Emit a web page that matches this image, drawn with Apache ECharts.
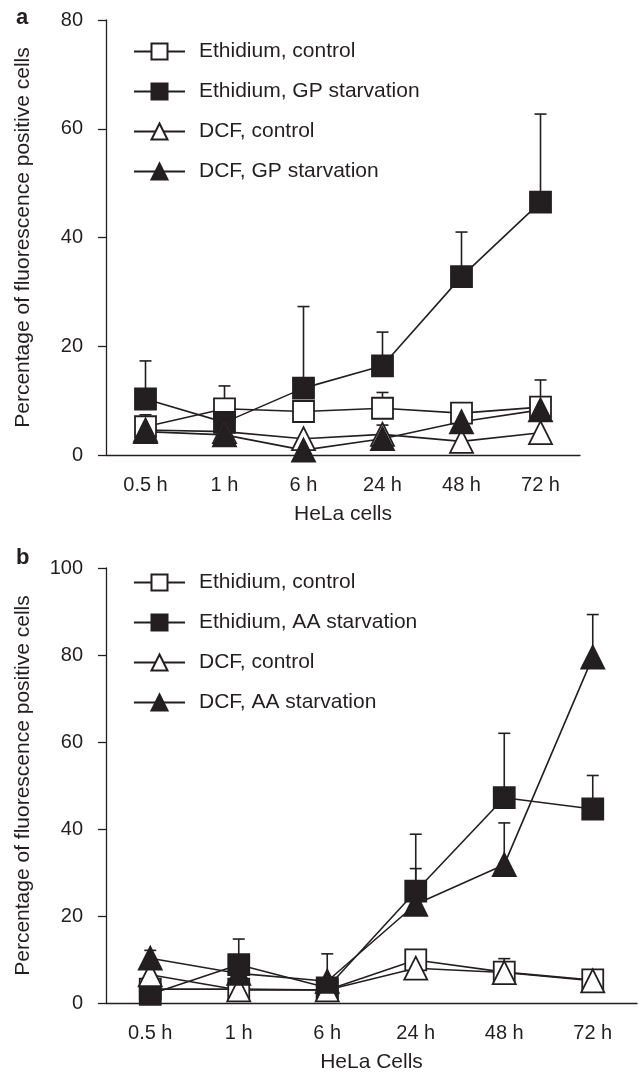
<!DOCTYPE html>
<html>
<head>
<meta charset="utf-8">
<script src="https://cdn.jsdelivr.net/npm/echarts@6/dist/echarts.min.js"></script>
<style>
  html, body { margin: 0; padding: 0; background: #fff; }
  #chartA { position: absolute; left: 0; top: 0; width: 639px; height: 540px; }
  #chartB { position: absolute; left: 0; top: 540px; width: 639px; height: 538px; }
</style>
</head>
<body>
<div id="chartA"></div>
<div id="chartB"></div>
<script>
// 时间点 (x 轴类别)
const timePoints = ["0.5 h", "1 h", "6 h", "24 h", "48 h", "72 h"];

// panel a: HeLa cells, GP starvation
const aEthControl = [5.2, 8.5, 8.0, 8.6, 7.7, 8.8];
const aEthControlErr = [7.4, 12.7, null, 11.5, null, 13.8];
const aEthGP = [10.3, 6.0, 12.3, 16.4, 32.8, 46.5];
const aEthGPErr = [17.3, null, 27.3, 22.6, 41.0, 62.7];
const aDcfControl = [4.6, 4.3, 3.0, 3.8, 2.5, 4.1];
const aDcfGP = [4.3, 3.7, 0.9, 3.0, 6.1, 8.3];
const aDcfGPErr = [null, null, null, 5.5, null, null];

// panel b: HeLa Cells, AA starvation
const bEthControl = [3.2, 3.2, 3.0, 9.9, 7.1, 5.3];
const bEthAA = [2.0, 8.8, 3.5, 25.7, 47.2, 44.6];
const bEthAAErr = [null, 14.7, null, 38.8, 62.0, 52.3];
const bDcfControl = [6.5, 3.0, 3.0, 8.0, 7.0, 5.1];
const bDcfControlErr = [null, null, null, null, 10.2, null];
const bDcfAA = [10.3, 6.8, 5.0, 22.7, 31.8, 79.5];
const bDcfAAErr = [12.1, null, 11.3, 30.9, 41.4, 89.3];

const INK = "#231f20";
const FONT = "Liberation Sans, Arial, sans-serif";

function lineSeries(name, data, symbol, filled) {
  return {
    name: name,
    type: "line",
    data: data,
    symbol: symbol,
    symbolSize: symbol === "rect" ? 21 : 23,
    z: 3,
    lineStyle: { color: INK, width: 1.6 },
    itemStyle: {
      color: filled ? INK : "#fff",
      borderColor: INK,
      borderWidth: 1.8,
    },
    emphasis: { disabled: true },
    animation: false,
  };
}

// 误差线 (只画上方)
function errSeries(values, errs) {
  const rows = [];
  errs.forEach((e, i) => {
    if (e != null) rows.push([i, values[i], e]);
  });
  return {
    type: "custom",
    z: 2,
    silent: true,
    animation: false,
    data: rows,
    encode: { x: 0, y: [1, 2] },
    renderItem: (params, api) => {
      const p0 = api.coord([api.value(0), api.value(1)]);
      const p1 = api.coord([api.value(0), api.value(2)]);
      const st = { stroke: INK, lineWidth: 1.6 };
      return {
        type: "group",
        children: [
          { type: "line", shape: { x1: p0[0], y1: p0[1], x2: p1[0], y2: p1[1] }, style: st },
          { type: "line", shape: { x1: p1[0] - 6, y1: p1[1], x2: p1[0] + 6, y2: p1[1] }, style: st },
        ],
      };
    },
  };
}

function baseOption(label, grid, yMax, xName, legendNames, legendTop, labelTop) {
  return {
    animation: false,
    textStyle: { fontFamily: FONT, color: INK },
    title: {
      text: label,
      left: 11,
      top: labelTop,
      textStyle: { fontSize: 22, fontWeight: "bold", color: INK, fontFamily: FONT },
    },
    legend: {
      orient: "vertical",
      left: 128,
      top: legendTop,
      itemWidth: 51,
      itemHeight: 20,
      itemGap: 19,
      data: legendNames,
      selectedMode: false,
      textStyle: { fontSize: 21, color: INK, fontFamily: FONT, padding: [0, 0, 0, 9] },
    },
    grid: grid,
    xAxis: {
      type: "category",
      data: timePoints,
      name: xName,
      nameLocation: "middle",
      nameGap: 49,
      nameTextStyle: { fontSize: 21, color: INK },
      axisLine: { lineStyle: { color: INK, width: 1.3 } },
      axisTick: { length: 8, lineStyle: { color: INK, width: 1.3 } },
      axisLabel: { fontSize: 20, color: INK, margin: 20 },
    },
    yAxis: {
      type: "value",
      min: 0,
      max: yMax,
      interval: 20,
      name: "Percentage of fluorescence positive cells",
      nameLocation: "middle",
      nameGap: 72,
      nameTextStyle: { fontSize: 21, color: INK },
      axisLine: { show: true, lineStyle: { color: INK, width: 1.3 } },
      axisTick: { show: true, length: 8, lineStyle: { color: INK, width: 1.3 } },
      axisLabel: { fontSize: 20, color: INK, margin: 23 },
      splitLine: { show: false },
    },
  };
}

const optA = baseOption(
  "a",
  { left: 106, top: 20, width: 474, height: 435 },
  80,
  "HeLa cells",
  ["Ethidium, control", "Ethidium, GP starvation", "DCF, control", "DCF, GP starvation"],
  36,
  2
);
optA.series = [
  errSeries(aEthControl, aEthControlErr),
  errSeries(aEthGP, aEthGPErr),
  errSeries(aDcfGP, aDcfGPErr),
  lineSeries("Ethidium, control", aEthControl, "rect", false),
  lineSeries("Ethidium, GP starvation", aEthGP, "rect", true),
  lineSeries("DCF, control", aDcfControl, "triangle", false),
  lineSeries("DCF, GP starvation", aDcfGP, "triangle", true),
];

const optB = baseOption(
  "b",
  { left: 106, top: 28, width: 531, height: 442 },
  100,
  "HeLa Cells",
  ["Ethidium, control", "Ethidium, AA starvation", "DCF, control", "DCF, AA starvation"],
  27,
  2
);
optB.series = [
  errSeries(bEthAA, bEthAAErr),
  errSeries(bDcfControl, bDcfControlErr),
  errSeries(bDcfAA, bDcfAAErr),
  lineSeries("Ethidium, control", bEthControl, "rect", false),
  lineSeries("Ethidium, AA starvation", bEthAA, "rect", true),
  lineSeries("DCF, control", bDcfControl, "triangle", false),
  lineSeries("DCF, AA starvation", bDcfAA, "triangle", true),
];

echarts.init(document.getElementById("chartA")).setOption(optA);
echarts.init(document.getElementById("chartB")).setOption(optB);
</script>
</body>
</html>
